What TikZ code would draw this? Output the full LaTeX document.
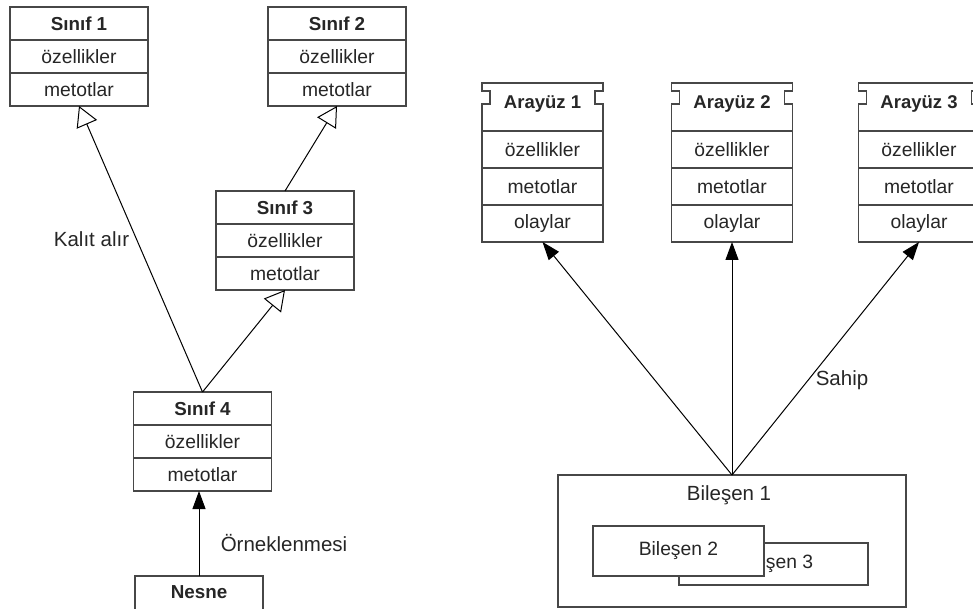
\documentclass[tikz,border=0pt]{standalone}
\usepackage{fontspec}
\setmainfont{Liberation Sans}
\usetikzlibrary{arrows.meta,calc}

\tikzset{
  boxline/.style={draw=black!72, line width=1.3pt},
  txt/.style={text=black!85, font=\fontsize{19.3}{22}\selectfont},
  crow/.style={boxline, txt, rectangle, minimum width=138pt, minimum height=33pt,
    inner sep=0pt, outer sep=0pt},
  ctitle/.style={crow, font=\bfseries\fontsize{18.8}{22}\selectfont},
  irow/.style={boxline, txt, rectangle, minimum width=121pt, minimum height=37pt,
    inner sep=0pt, outer sep=0pt},
  ititle/.style={txt, rectangle, minimum width=121pt, minimum height=48pt,
    inner sep=0pt, outer sep=0pt},
  ititletext/.style={txt, font=\bfseries\fontsize{18.5}{22}\selectfont},
  comp/.style={boxline, txt, rectangle, inner sep=0pt, outer sep=0pt, fill=white},
  lbl/.style={txt, font=\fontsize{20.5}{24}\selectfont},
  inherit/.style={draw=black, line width=1pt,
    -{Triangle[open, length=20pt, width=22pt, line width=1pt]}},
  owns/.style={draw=black, line width=1pt, -{Triangle[length=18pt, width=13pt]}},
}

% class box: name, centre x, top y, title
\newcommand\classbox[4]{%
  \node[ctitle] (#1t) at (#2,#3+16.5) {#4};
  \node[crow] (#1a) at (#2,#3+49.5) {özellikler};
  \node[crow] (#1b) at (#2,#3+82.5) {metotlar};
}

% interface box with notched title: name, centre x, title
\newcommand\ifacebox[3]{%
  \node[ititle] (#1t) at (#2,107) {};
  \node[ititletext] (#1l) at (#2,104) {#3};
  \node[irow] (#1a) at (#2,149.5) {özellikler};
  \node[irow] (#1b) at (#2,186.5) {metotlar};
  \node[irow] (#1c) at (#2,223.5) {olaylar};
  \draw[boxline] (#1t.north west) -- ++(0,8) -- ++(8,0) -- ++(0,13) -- ++(-8,0)
    -- (#1t.south west) -- (#1t.south east)
    -- ++(0,-27) -- ++(-8,0) -- ++(0,-13) -- ++(8,0)
    -- (#1t.north east) -- cycle;
}

\begin{document}
\begin{tikzpicture}[x=1pt, y=-1pt]
\useasboundingbox (0,0) rectangle (973,609);

% class hierarchy
\classbox{s1}{79}{7}{Sınıf 1}
\classbox{s2}{337}{7}{Sınıf 2}
\classbox{s3}{285}{191}{Sınıf 3}
\classbox{s4}{202.5}{392}{Sınıf 4}
\node[ctitle, minimum width=128pt, minimum height=38pt] (n) at (199,595) {};
\node[txt, font=\bfseries\fontsize{18.8}{22}\selectfont] (nl) at (199,592) {Nesne};

\draw[inherit] (s4t.north) -- (s1b.south);
\draw[inherit] (s4t.north) -- (s3b.south);
\draw[inherit] (s3t.north) -- (s2b.south);
\draw[owns] (n.north) -- (n.north |- s4b.south);

\node[lbl] (kal) at (91.5,239) {Kalıt alır};
\node[lbl] (ork) at (284,543) {Örneklenmesi};

% interfaces and component
\ifacebox{a1}{542.5}{Arayüz 1}
\ifacebox{a2}{732}{Arayüz 2}
\ifacebox{a3}{919}{Arayüz 3}

\node[comp, minimum width=348pt, minimum height=132pt] (b1) at (732,541) {};
\node[lbl] (b1l) at (729,495) {Bileşen 1};
\node[comp, minimum width=189pt, minimum height=42pt] (b3) at (773.5,564) {Bileşen 3};
\node[comp, minimum width=171pt, minimum height=50pt] (b2) at (678.5,551) {Bileşen 2};

\draw[owns] (b1.north) -- (a1c.south);
\draw[owns] (b1.north) -- (a2c.south);
\draw[owns] (b1.north) -- (a3c.south);

\node[lbl] (sah) at (842,380) {Sahip};
\end{tikzpicture}
\end{document}
